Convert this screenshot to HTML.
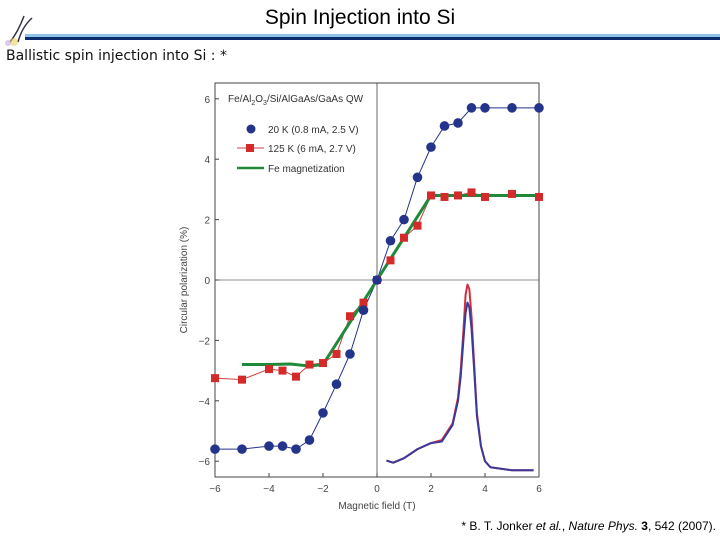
<!DOCTYPE html>
<html><head><meta charset="utf-8"><style>
body{margin:0;width:720px;height:540px;background:#fff;overflow:hidden;position:relative;font-family:"Liberation Sans",sans-serif}
</style></head><body>
<div style="position:absolute;left:0;width:720px;top:6px;text-align:center;font-size:21px;color:#000">Spin Injection into Si</div>
<svg width="40" height="40" style="position:absolute;left:0;top:12px"><path d="M10 30 Q18 20 24 4 M18 30 Q22 15 32 6" stroke="#334" fill="none" stroke-width="1.5"/><circle cx="14" cy="30" r="4" fill="#e8d060" opacity="0.6"/><circle cx="8" cy="31" r="3" fill="#c8a0e0" opacity="0.6"/></svg>
<div style="position:absolute;left:25px;top:34px;width:695px;height:3px;background:#8fc4e8"></div>
<div style="position:absolute;left:25px;top:37px;width:695px;height:3px;background:#0c2c6c"></div>
<div style="position:absolute;left:6px;top:48px;font-family:'DejaVu Sans',sans-serif;font-size:14px;color:#111">Ballistic spin injection into Si : *</div>
<div style="position:absolute;right:4px;top:519px;font-size:12px;color:#000">* B. T. Jonker <i>et al.</i>, <i>Nature Phys.</i> <b>3</b>, 542 (2007).</div>
<svg id="chart" width="720" height="540" style="position:absolute;left:0;top:0"></svg>
<script>
const blueX=[-6,-5,-4,-3.5,-3,-2.5,-2,-1.5,-1,-0.5,0,0.5,1,1.5,2,2.5,3,3.5,4,5,6];
const blueY=[-5.6,-5.6,-5.5,-5.5,-5.6,-5.3,-4.4,-3.45,-2.45,-1.0,0,1.3,2.0,3.4,4.4,5.1,5.2,5.7,5.7,5.7,5.7];
const redX=[-6,-5,-4,-3.5,-3,-2.5,-2,-1.5,-1,-0.5,0,0.5,1,1.5,2,2.5,3,3.5,4,5,6];
const redY=[-3.25,-3.3,-2.95,-3.0,-3.2,-2.8,-2.75,-2.45,-1.2,-0.75,0,0.65,1.4,1.8,2.8,2.75,2.8,2.9,2.75,2.85,2.75];
const greenX=[-5,-4,-3.2,-2.5,-2,0,2,3,4,5,5.9];
const greenY=[-2.8,-2.8,-2.78,-2.85,-2.8,0,2.8,2.8,2.8,2.8,2.8];
const peakX=[0.35,0.6,1,1.5,2,2.4,2.8,3.0,3.1,3.2,3.28,3.35,3.42,3.5,3.6,3.7,3.85,4.0,4.2,5,5.8];
const peakBlueY=[-5.98,-6.05,-5.9,-5.6,-5.4,-5.35,-4.8,-4.0,-3.2,-2.0,-1.1,-0.75,-0.9,-1.6,-3.0,-4.5,-5.5,-6.0,-6.2,-6.3,-6.3];
const peakRedY=[-5.98,-6.05,-5.9,-5.6,-5.4,-5.3,-4.75,-3.9,-3.0,-1.7,-0.5,-0.15,-0.3,-1.2,-2.8,-4.4,-5.5,-6.0,-6.2,-6.3,-6.3];
const xTicks=[-6,-4,-2,0,2,4,6];
const yTicks=[-6,-4,-2,0,2,4,6];
const NS='http://www.w3.org/2000/svg';
const svg=document.getElementById('chart');
const X0=215,X1=539,Y0=83,Y1=477;
const sx=v=>377+v*27, sy=v=>280-v*30.2;
function mk(t,a,p){const e=document.createElementNS(NS,t);for(const k in a)e.setAttribute(k,a[k]);(p||svg).appendChild(e);return e;}
const frame=mk('rect',{x:X0,y:Y0,width:X1-X0,height:Y1-Y0,fill:'none',stroke:'#444','stroke-width':1});


mk('line',{x1:X0,x2:X1,y1:sy(0),y2:sy(0),stroke:'#666','stroke-width':0.8});
mk('line',{x1:sx(0),x2:sx(0),y1:Y0,y2:Y1,stroke:'#444','stroke-width':0.8});
xTicks.forEach(v=>{mk('line',{x1:sx(v),x2:sx(v),y1:Y1,y2:Y1-4,stroke:'#444'});
 const t=mk('text',{x:sx(v),y:Y1+15,'text-anchor':'middle','font-size':10,fill:'#444'});t.textContent=v<0?'\u2212'+(-v):v;
 
 });
yTicks.forEach(v=>{mk('line',{x1:X0,x2:X0+4,y1:sy(v),y2:sy(v),stroke:'#444'});
 const t=mk('text',{x:X0-5,y:sy(v)+4,'text-anchor':'end','font-size':10,fill:'#444'});t.textContent=v<0?'\u2212'+(-v):v;
 
 });
const xt=mk('text',{x:sx(0),y:Y1+32,'text-anchor':'middle','font-size':10,fill:'#444'});xt.textContent='Magnetic field (T)';


const yt=mk('text',{x:0,y:0,transform:'translate(187,280) rotate(-90)','text-anchor':'middle','font-size':10,fill:'#444'});yt.textContent='Circular polarization (%)';


function line(xs,ys,col,w,name){const d=xs.map((x,i)=>(i?'L':'M')+sx(x)+' '+sy(ys[i])).join('');const p=mk('path',{d,fill:'none',stroke:col,'stroke-width':w,'stroke-linejoin':'round'});
 
 }
line(peakX,peakRedY,'#d03040',2,'el-spectrum-red');
line(peakX,peakBlueY,'#3a3a9a',2,'el-spectrum-blue');
line(redX,redY,'#d04040',1,'red-series-line');
line(blueX,blueY,'#23348a',1,'blue-series-line');
line(greenX,greenY,'#1f8a3a',3,'fe-magnetization-line');
redX.forEach((x,i)=>{const r=mk('rect',{x:sx(x)-4,y:sy(redY[i])-4,width:8,height:8,fill:'#d42a2a'});
 
 });
blueX.forEach((x,i)=>{const c=mk('circle',{cx:sx(x),cy:sy(blueY[i]),r:4.8,fill:'#23348a'});
 
 });
const lg=mk('g',{});


const lt=mk('text',{x:228,y:102,'font-size':10,fill:'#333'},lg);lt.innerHTML='Fe/Al<tspan font-size="7" dy="3">2</tspan><tspan dy="-3">O</tspan><tspan font-size="7" dy="3">3</tspan><tspan dy="-3">/Si/AlGaAs/GaAs QW</tspan>';
mk('circle',{cx:251,cy:129,r:4.5,fill:'#23348a'},lg);
mk('text',{x:268,y:133,'font-size':10,fill:'#333'},lg).textContent='20 K (0.8 mA, 2.5 V)';
mk('line',{x1:237,x2:264,y1:148,y2:148,stroke:'#d04040'},lg);
mk('rect',{x:246,y:144,width:8,height:8,fill:'#d42a2a'},lg);
mk('text',{x:268,y:152,'font-size':10,fill:'#333'},lg).textContent='125 K (6 mA, 2.7 V)';
mk('line',{x1:237,x2:264,y1:168,y2:168,stroke:'#1f8a3a','stroke-width':2.5},lg);
mk('text',{x:268,y:172,'font-size':10,fill:'#333'},lg).textContent='Fe magnetization';
</script>
</body></html>
